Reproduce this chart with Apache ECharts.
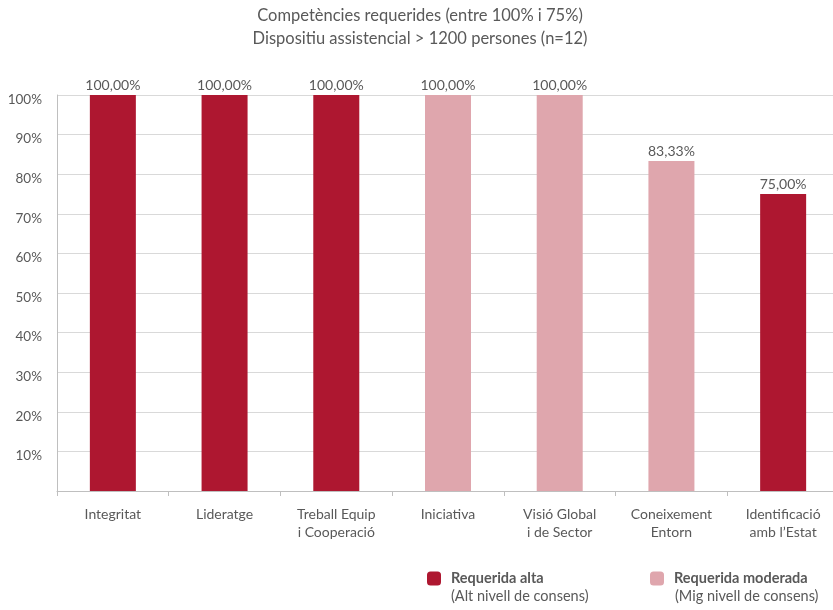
<!DOCTYPE html>
<html>
<head>
<meta charset="utf-8">
<script src="https://cdn.jsdelivr.net/npm/echarts@6/dist/echarts.min.js"></script>
<style>
  html, body { margin: 0; padding: 0; background: #fff; overflow: hidden; }
  #chart { width: 839px; height: 610px; }
</style>
</head>
<body>
<div id="chart"></div>
<script>
// Competències i percentatge de consens
const categories = [
  'Integritat', 'Lideratge', 'Treball Equip\ni Cooperació', 'Iniciativa',
  'Visió Global\ni de Sector', 'Coneixement\nEntorn', 'Identificació\namb l\u2019Estat'
];
// Requerida alta (alt nivell de consens)
const altaValues = [100, 100, 100, null, null, null, 75];
// Requerida moderada (mig nivell de consens)
const moderadaValues = [null, null, null, 100, 100, 83.33, null];
const yTicks = [10, 20, 30, 40, 50, 60, 70, 80, 90, 100];

const FONT = 'Lato, "Open Sans", sans-serif';
const TEXT = '#595959';
const DARK = '#AE1730';
const LIGHT = '#DFA6AD';

const fmtValue = p => p.value.toFixed(2).replace('.', ',') + '%';

const chart = echarts.init(document.getElementById('chart'));
chart.setOption({
  animation: false,
  title: {
    text: 'Competències requerides (entre 100% i 75%)\nDispositiu assistencial > 1200 persones (n=12)',
    left: 420, textAlign: 'center', top: 4, padding: 0,
    textStyle: { fontFamily: FONT, fontSize: 16.5, fontWeight: 'normal', color: TEXT, lineHeight: 23 }
  },
  grid: { left: 57, right: 0, top: 95, bottom: 119, containLabel: false },
  legend: [
    {
      data: ['Requerida alta'], left: 427, top: 571, padding: 0, itemWidth: 14, itemHeight: 14, itemGap: 0,
      textStyle: { fontFamily: FONT, fontSize: 14.5, fontWeight: 'bold', color: TEXT, padding: [0, 0, 0, 5] },
      selectedMode: false
    },
    {
      data: ['Requerida moderada'], left: 650, top: 571, padding: 0, itemWidth: 14, itemHeight: 14, itemGap: 0,
      textStyle: { fontFamily: FONT, fontSize: 14.5, fontWeight: 'bold', color: TEXT, padding: [0, 0, 0, 5] },
      selectedMode: false
    }
  ],
  graphic: [
    { type: 'text', left: 451, top: 589, style: { text: '(Alt nivell de consens)', font: '14.5px ' + FONT, fill: TEXT } },
    { type: 'text', left: 675, top: 589, style: { text: '(Mig nivell de consens)', font: '14.5px ' + FONT, fill: TEXT } }
  ],
  xAxis: {
    type: 'category', data: categories,
    axisLine: { lineStyle: { color: '#BFBFBF', width: 1 } },
    axisTick: { show: true, alignWithLabel: false, length: 5, lineStyle: { color: '#BFBFBF' } },
    axisLabel: { fontFamily: FONT, fontSize: 14, color: TEXT, margin: 14, lineHeight: 18 }
  },
  yAxis: {
    type: 'value', min: 0, max: 100, interval: 10,
    axisLine: { show: true, lineStyle: { color: '#BFBFBF' } },
    axisTick: { show: false },
    splitLine: { lineStyle: { color: '#D9D9D9' } },
    axisLabel: {
      fontFamily: FONT, fontSize: 13.5, color: TEXT, margin: 15,
      verticalAlign: 'top', lineHeight: 9,
      formatter: v => (yTicks.includes(v) ? v + '%' : '')
    }
  },
  series: [
    {
      name: 'Requerida alta', type: 'bar', data: altaValues, stack: 'c', barWidth: 46,
      itemStyle: { color: DARK },
      label: { show: true, position: 'top', distance: 3, formatter: fmtValue, fontFamily: FONT, fontSize: 14, color: TEXT }
    },
    {
      name: 'Requerida moderada', type: 'bar', data: moderadaValues, stack: 'c', barWidth: 46,
      itemStyle: { color: LIGHT },
      label: { show: true, position: 'top', distance: 3, formatter: fmtValue, fontFamily: FONT, fontSize: 14, color: TEXT }
    }
  ]
});
</script>
</body>
</html>
